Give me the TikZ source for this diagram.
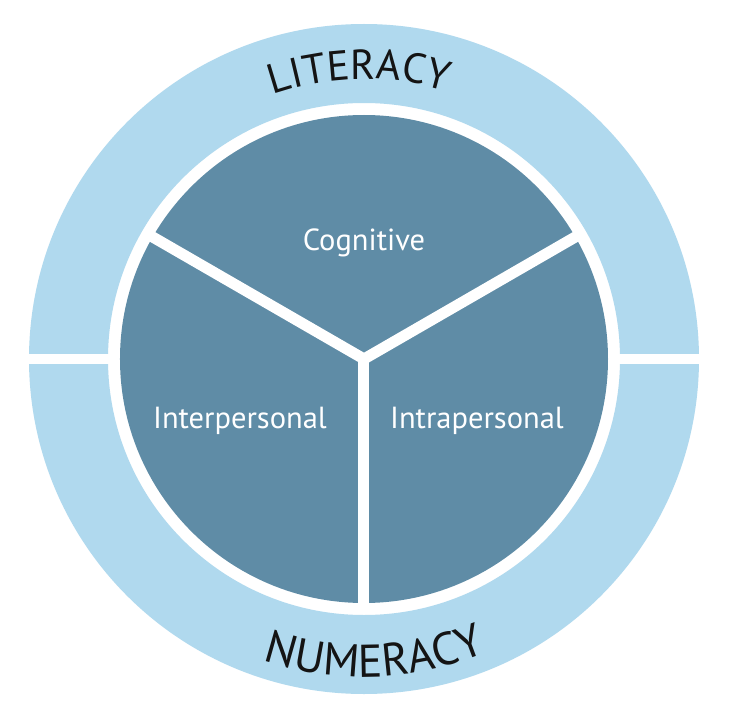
\documentclass[tikz,border=0pt]{standalone}
\usepackage{fontspec}
\setmainfont{PT Sans}
\usetikzlibrary{decorations.text}
\definecolor{lightring}{RGB}{176,217,238}
\definecolor{darkfill}{RGB}{95,140,166}
\definecolor{ringtext}{RGB}{20,20,20}
\tikzset{
  sectorlabel/.style={text=white, font=\fontsize{30.5}{30.5}\selectfont, anchor=base, inner sep=0pt},
  divider/.style={draw=white, line width=11, miter limit=10}
}
\begin{document}
\begin{tikzpicture}[x=1pt,y=1pt]
\useasboundingbox[fill=white] (-364,-359) rectangle (367,359);
% outer light ring
\fill[lightring, even odd rule] (0,0) circle[radius=335] (0,0) circle[radius=256];
% horizontal gap splitting the ring
\fill[white] (-345,-5) rectangle (345,5);
% inner dark disc
\fill[darkfill] (0,0) circle[radius=244];
% Y dividers
\coordinate (c) at (0,0);
\coordinate (d1) at (30:250);
\coordinate (d2) at (150:250);
\coordinate (d3) at (270:250);
\path[divider] (d1) -- (c) -- (d2);
\path[divider] (c) -- (d3);
% sector labels
\node[sectorlabel] (cog) at (0,109) {Cognitive};
\node[sectorlabel] (inter) at (-124,-69) {Interpersonal};
\node[sectorlabel] (intra) at (113,-69) {Intrapersonal};
% ring labels
\path[decorate, decoration={text along path, text align=center,
  text={|\fontsize{42}{42}\selectfont\color{ringtext}|LITERACY}}]
  (151:280) arc[start angle=151, end angle=31, radius=280];
\path[decorate, decoration={text along path, text align=center,
  text={|\fontsize{46}{46}\selectfont\color{ringtext}|NUMERACY}}]
  (202:318) arc[start angle=202, end angle=342, radius=318];
\end{tikzpicture}
\end{document}
